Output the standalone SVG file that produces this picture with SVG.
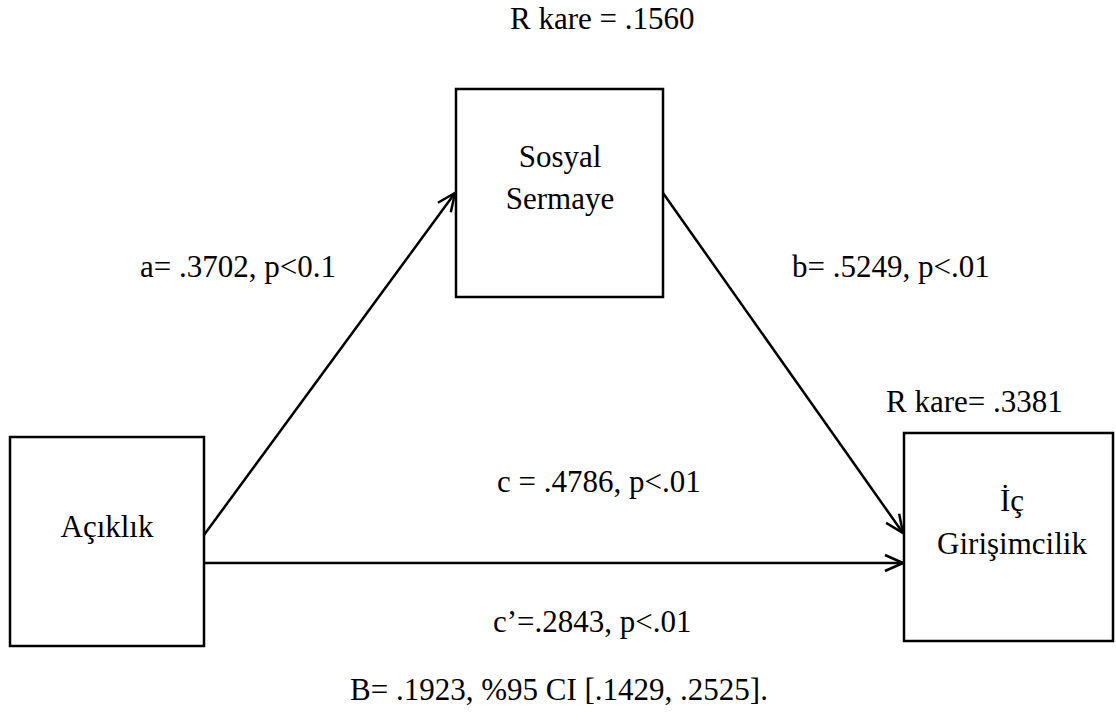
<svg xmlns="http://www.w3.org/2000/svg" width="1116" height="720" viewBox="0 0 1116 720">
  <style>
    .box { fill: #ffffff; stroke: #000000; stroke-width: 2.5; }
    .edge { fill: none; stroke: #000000; stroke-width: 2.5; }
    text { font-family: "Liberation Serif", "Times New Roman", "DejaVu Serif", serif; font-size: 31px; fill: #000000; }
    .mid { text-anchor: middle; }
  </style>
  <defs>
    <marker id="arrow" viewBox="0 0 20 20" refX="19" refY="10" markerWidth="20" markerHeight="20" markerUnits="userSpaceOnUse" orient="auto">
      <path d="M1,2 L19,10 L1,18" fill="none" stroke="#000000" stroke-width="2.5"/>
    </marker>
  </defs>
  <rect width="1116" height="720" fill="#ffffff"/>

  <!-- path connectors -->
  <g id="connectors">
    <line class="edge" x1="204" y1="535" x2="455" y2="193" marker-end="url(#arrow)"/>
    <line class="edge" x1="663" y1="193" x2="903" y2="533" marker-end="url(#arrow)"/>
    <line class="edge" x1="204" y1="563" x2="903" y2="563" marker-end="url(#arrow)"/>
  </g>

  <g id="node-sosyal-sermaye">
    <rect class="box" x="456" y="89" width="207" height="208"/>
    <text class="mid" x="560" y="167" font-family="Liberation Serif, serif">Sosyal</text>
    <text class="mid" x="560" y="209" font-family="Liberation Serif, serif">Sermaye</text>
  </g>

  <g id="node-aciklik">
    <rect class="box" x="10" y="437" width="194" height="209"/>
    <text class="mid" x="107" y="537">Açıklık</text>
  </g>

  <g id="node-ic-girisimcilik">
    <rect class="box" x="904" y="433" width="209" height="208"/>
    <text class="mid" x="1012" y="511">İç</text>
    <text class="mid" x="1012" y="554">Girişimcilik</text>
  </g>

  <g id="labels">
    <text x="510" y="29">R kare = .1560</text>
    <text x="140" y="277">a= .3702, p&lt;0.1</text>
    <text x="792" y="277">b= .5249, p&lt;.01</text>
    <text x="886" y="412">R kare= .3381</text>
    <text x="497" y="492">c = .4786, p&lt;.01</text>
    <text x="493" y="632">c’=.2843, p&lt;.01</text>
    <text class="mid" x="559" y="700">B= .1923, %95 CI [.1429, .2525].</text>
  </g>
</svg>
